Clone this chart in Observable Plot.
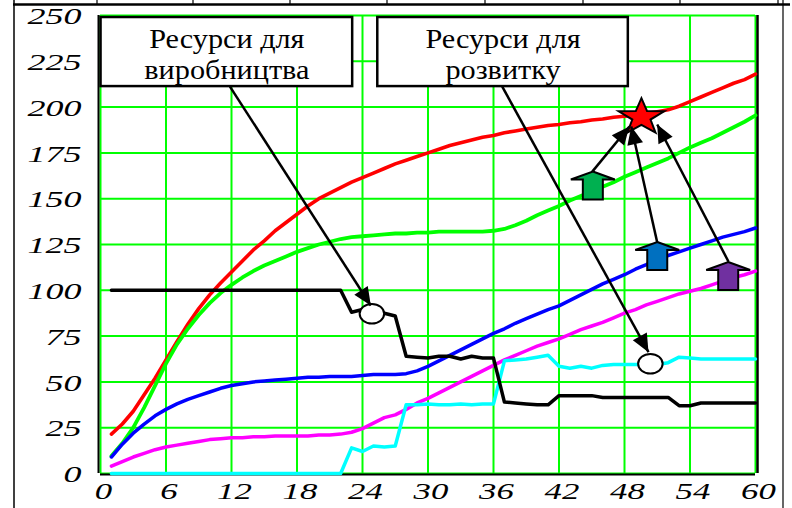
<!DOCTYPE html>
<html>
<head>
<meta charset="utf-8">
<script src="https://cdn.jsdelivr.net/npm/d3@7"></script>
<script src="https://cdn.jsdelivr.net/npm/@observablehq/plot@0.6"></script>
<style>
  html, body { margin: 0; padding: 0; background: #fff; }
  #chart { width: 792px; height: 508px; }
</style>
</head>
<body>
<div id="chart"></div>
<script>
// Periods along the horizontal axis
const periods = Array.from({length: 60}, (_, i) => i + 1);

// Series values, one per period
const seriesRed = [
  21.5, 27, 34, 43, 52, 62, 72, 81.5, 90, 97.5,
  104, 110, 116, 122, 127, 132.5, 137, 141.5, 146, 150,
  153, 156, 159, 161.5, 164, 166.5, 169, 171, 173, 175,
  177, 179, 180.5, 182, 183.5, 184.5, 186, 187, 188, 189,
  190, 190.5, 191.5, 192, 193, 193.5, 194.5, 195, 195.5, 196.5,
  197.5, 198.5, 200.5, 203, 205.5, 208, 210.5, 213, 215, 218
];
const seriesGreen = [
  9.5, 16.5, 25, 36, 48, 60, 70.5, 79, 86.5, 93,
  98.5, 103, 107, 110.5, 113.5, 116, 118.5, 121, 123, 125,
  126.5, 128, 129, 129.5, 130, 130.5, 131, 131, 131.5, 131.5,
  132, 132, 132, 132, 132, 132.5, 133.5, 135.5, 138, 141,
  143.5, 146, 149, 151.5, 154, 156.5, 159, 162, 164.5, 167,
  169.5, 172, 175, 178, 180.5, 183, 186, 189, 192, 195.5
];
const seriesBlue = [
  9, 16, 22, 27, 31.5, 35, 38, 40.5, 42.5, 44.5,
  46.5, 48, 49, 50, 50.5, 51, 51.5, 52, 52.5, 52.5,
  53, 53, 53, 53.5, 54, 54, 54, 54.5, 56, 58.5,
  61.5, 64.5, 67.5, 70.5, 73.5, 76.5, 79, 82, 84.5, 87,
  89.5, 91.5, 94.5, 97.5, 100.5, 103.5, 106, 108.5, 111.5, 114,
  117, 119, 121, 123, 125, 127, 129, 130.5, 132, 134
];
const seriesMagenta = [
  4, 6.5, 9, 11, 13, 14.5, 15.5, 16.5, 17.5, 18.5,
  19, 19.5, 19.5, 20, 20, 20.5, 20.5, 20.5, 20.5, 21,
  21, 21.5, 22.5, 24.5, 27.5, 30.5, 32, 35, 38.5, 41,
  44, 47, 50, 53, 56, 59, 62, 64.5, 67, 69.5,
  71.5, 73.5, 76, 78.5, 80.5, 82.5, 85, 87.5, 89.5, 92,
  94, 96, 98, 99.5, 101, 103, 105, 107, 108.5, 110.5
];
const seriesCyan = [
  0, 0, 0, 0, 0, 0, 0, 0, 0, 0,
  0, 0, 0, 0, 0, 0, 0, 0, 0, 0,
  0, 0, 14, 12, 15, 14.5, 15, 37.5, 37.5, 38,
  37.5, 37.5, 38, 37.5, 38, 38, 61.5, 62, 62.5, 63.5,
  64.5, 58.5, 57.5, 58.5, 57.5, 59, 59.5, 59.5, 59.5, 59.5,
  59.5, 60.5, 63.5, 63, 62.5, 62.5, 62.5, 62.5, 62.5, 62.5
];
const seriesBlack = [
  100, 100, 100, 100, 100, 100, 100, 100, 100, 100,
  100, 100, 100, 100, 100, 100, 100, 100, 100, 100,
  100, 100, 88, 89.5, 88, 87.5, 86, 64, 63.5, 63,
  64, 64, 62.5, 64, 63, 63, 39, 38.5, 38, 37.5,
  37.5, 42.5, 42.5, 42.5, 42.5, 41.5, 41.5, 41.5, 41.5, 41.5,
  41.5, 41.5, 37, 37, 38.5, 38.5, 38.5, 38.5, 38.5, 38.5
];

// Tick labels
const xTicks = [0, 6, 12, 18, 24, 30, 36, 42, 48, 54, 60];
const yTicks = [0, 25, 50, 75, 100, 125, 150, 175, 200, 225, 250];

// Callout texts and their boxes (in axis units)
const calloutLabels = ["Ресурси для\nвиробництва", "Ресурси для\nрозвитку"];
const calloutBoxes = [
  {x1: 0.05, x2: 23.1, y1: 211.2, y2: 248.9},
  {x1: 25.4, x2: 48.35, y1: 211.2, y2: 248.9}
];

// Pointer lines (in axis units)
const pointers = [
  {x1: 11.86, y1: 211.2, x2: 24.76, y2: 91.7},
  {x1: 36.8, y1: 211.2, x2: 50.2, y2: 66.2},
  {x1: 45.05, y1: 164.8, x2: 48.45, y2: 189.4},
  {x1: 51.0, y1: 126.1, x2: 48.62, y2: 189.4},
  {x1: 57.52, y1: 115.7, x2: 51.0, y2: 190.5}
];

// Markers: target star, open ellipses, block arrows
const starPoint = [{x: 49.55, y: 194.5}];
const ellipsePoints = [{x: 24.86, y: 87.2}, {x: 50.37, y: 59.9}];
const blockArrows = [
  {x: 45.1, y: 157.2, color: "#00b050"},
  {x: 51.0, y: 118.7, color: "#0070c0"},
  {x: 57.5, y: 107.8, color: "#7030a0"}
];

// Custom symbol shapes (sized by r)
const ellipseSymbol = {
  draw(ctx, size) {
    const r = Math.sqrt(size / Math.PI), rx = r * 1.25, ry = r, k = 0.5523;
    ctx.moveTo(rx, 0);
    ctx.bezierCurveTo(rx, ry * k, rx * k, ry, 0, ry);
    ctx.bezierCurveTo(-rx * k, ry, -rx, ry * k, -rx, 0);
    ctx.bezierCurveTo(-rx, -ry * k, -rx * k, -ry, 0, -ry);
    ctx.bezierCurveTo(rx * k, -ry, rx, -ry * k, rx, 0);
    ctx.closePath();
  }
};
const wideStar = {
  draw(ctx, size) {
    const r = Math.sqrt(size / Math.PI), sx = 1.26, inner = 0.4;
    for (let i = 0; i < 10; i++) {
      const a = -Math.PI / 2 + i * Math.PI / 5;
      const rr = i % 2 ? r * inner : r;
      const px = Math.cos(a) * rr * sx, py = Math.sin(a) * rr;
      i ? ctx.lineTo(px, py) : ctx.moveTo(px, py);
    }
    ctx.closePath();
  }
};
const upArrow = {
  draw(ctx, size) {
    const s = Math.sqrt(size / Math.PI) / 14;
    const pts = [[0, -14], [22, -6], [10, -6], [10, 14], [-10, 14], [-10, -6], [-22, -6]];
    pts.forEach(([px, py], i) => i ? ctx.lineTo(px * s, py * s) : ctx.moveTo(px * s, py * s));
    ctx.closePath();
  }
};

const seriesLine = (values, color, width) =>
  Plot.line(periods, {x: d => d, y: (d, i) => values[i], stroke: color, strokeWidth: width, strokeLinejoin: "round"});

const serif = "'Liberation Serif', 'Times New Roman', serif";

const chart = Plot.plot({
  width: 792,
  height: 508,
  marginLeft: 100,
  marginRight: 37,
  marginTop: 15,
  marginBottom: 35,
  style: {background: "white", color: "black", overflow: "visible"},
  x: {domain: [0, 60], axis: null},
  y: {domain: [0, 250], axis: null},
  marks: [
    Plot.gridX(xTicks, {stroke: "#00ff00", strokeOpacity: 1, strokeWidth: 2}),
    Plot.gridY(yTicks, {stroke: "#00ff00", strokeOpacity: 1, strokeWidth: 2}),
    Plot.ruleX([0], {stroke: "black", strokeWidth: 2, dx: -2}),
    Plot.ruleX([60], {stroke: "black", strokeWidth: 2.5, dx: 2}),
    Plot.ruleY([0], {stroke: "black", strokeWidth: 2, dy: 1}),
    seriesLine(seriesRed, "#ff0000", 3.6),
    seriesLine(seriesGreen, "#00ff00", 3.8),
    seriesLine(seriesBlue, "#0000ff", 3.5),
    seriesLine(seriesMagenta, "#ff00ff", 3.5),
    seriesLine(seriesCyan, "#00ffff", 3.5),
    seriesLine(seriesBlack, "#000000", 3.5),
    Plot.axisX(xTicks, {tickSize: 0, tickPadding: 8, fontSize: 24, fontFamily: serif, dx: 3, tickFormat: d => String(d), label: null}),
    Plot.axisY(yTicks, {tickSize: 0, tickPadding: 19, fontSize: 24, fontFamily: serif, dy: 1, tickFormat: d => String(d), label: null}),
    Plot.dot(starPoint, {x: "x", y: "y", r: 19, symbol: wideStar, fill: "#ff0000", stroke: "black", strokeWidth: 2}),
    Plot.dot(ellipsePoints, {x: "x", y: "y", r: 9.8, symbol: ellipseSymbol, fill: "white", stroke: "black", strokeWidth: 2}),
    Plot.link(pointers, {x1: "x1", y1: "y1", x2: "x2", y2: "y2", stroke: "black", strokeWidth: 2.5}),
    Plot.dot(blockArrows, {x: "x", y: "y", r: 14, symbol: upArrow, fill: "color", stroke: "black", strokeWidth: 2}),
    Plot.rect(calloutBoxes, {x1: "x1", x2: "x2", y1: "y1", y2: "y2", fill: "white", stroke: "black", strokeWidth: 2.5}),
    Plot.text(calloutBoxes, {
      x: d => (d.x1 + d.x2) / 2, y: d => (d.y1 + d.y2) / 2 - 0.8,
      text: (d, i) => calloutLabels[i], fontSize: 28, fontFamily: serif, lineHeight: 1.12,
      fill: "black"
    })
  ]
});

document.getElementById("chart").appendChild(chart);

const svg = d3.select(chart);

// Filled triangular heads for the pointer lines
svg.append("defs").append("marker")
  .attr("id", "pointer-head")
  .attr("viewBox", "-19 -9 20 18")
  .attr("markerUnits", "userSpaceOnUse")
  .attr("markerWidth", 20).attr("markerHeight", 18)
  .attr("refX", 0).attr("refY", 0)
  .attr("orient", "auto")
  .append("path").attr("d", "M0,0L-18,-8L-18,8Z").attr("fill", "black");
svg.selectAll('g[aria-label="link"] path, g[aria-label="link"] line')
  .attr("marker-end", "url(#pointer-head)");

// Wide italic lettering for the tick labels; slightly wide callout text
function stretch(selection, sx) {
  selection.each(function () {
    const t = this.getAttribute("transform") || "";
    this.setAttribute("transform", `${t} scale(${sx},1)`);
  });
}
const xLabels = svg.selectAll('g[aria-label="x-axis tick label"] text');
const yLabels = svg.selectAll('g[aria-label="y-axis tick label"] text');
[xLabels, yLabels].forEach(sel => sel
  .style("font-style", "italic")
  .style("font-family", serif)
  .style("font-size", "24px"));
stretch(xLabels, 1.45);
stretch(yLabels, 1.5);
stretch(svg.selectAll("text").filter(function () { return this.textContent.startsWith("Ресурси"); }), 1.08);

// Page frame around the chart
const frame = svg.append("g").attr("stroke", "black").attr("fill", "none");
frame.append("line").attr("x1", 13).attr("x2", 790).attr("y1", 4.5).attr("y2", 4.5).attr("stroke-width", 2.5);
frame.append("line").attr("x1", 14).attr("x2", 14).attr("y1", 0).attr("y2", 508).attr("stroke-width", 1.5);
frame.append("line").attr("x1", 783).attr("x2", 783).attr("y1", 0).attr("y2", 508).attr("stroke-width", 1.2);
[97, 193, 290, 387, 485, 583, 680, 778].forEach(x =>
  frame.append("line").attr("x1", x).attr("x2", x).attr("y1", 0).attr("y2", 4).attr("stroke-width", 1.2));
</script>
</body>
</html>
